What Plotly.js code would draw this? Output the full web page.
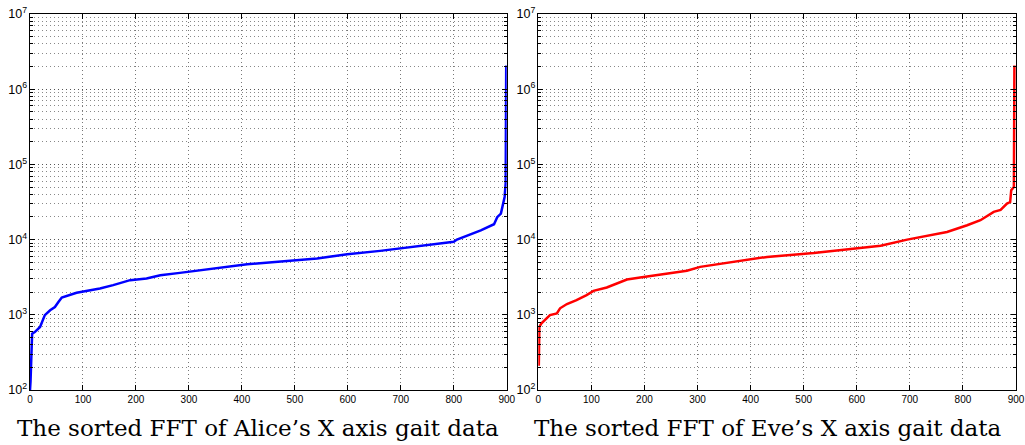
<!DOCTYPE html>
<html>
<head>
<meta charset="utf-8">
<script src="https://cdn.plot.ly/plotly-3.0.1.min.js"></script>
<style>html,body{margin:0;padding:0;background:#fff;}#chart{width:1025px;height:445px;}</style>
</head>
<body>
<div id="chart"></div>
<script>
// Sorted FFT magnitudes
const aliceX = [0, 1, 4, 9, 19, 28, 38, 47, 54, 60, 88, 107, 132, 157, 189, 220, 246, 283, 321, 410, 542, 599, 661, 700, 724, 800, 806, 851, 876, 882, 889, 892, 896, 898, 899];
const aliceY = [100, 130, 560, 590, 690, 990, 1150, 1270, 1490, 1700, 1960, 2080, 2240, 2480, 2890, 3040, 3360, 3610, 3930, 4710, 5610, 6400, 7080, 7620, 8000, 9330, 10000, 13300, 16000, 19900, 22200, 28600, 36900, 56000, 2070000];

const eveX = [1, 2, 6, 13, 22, 35, 41, 54, 72, 91, 104, 129, 148, 167, 192, 242, 280, 305, 393, 431, 519, 569, 645, 695, 770, 808, 833, 858, 871, 883, 889, 891, 896, 897];
const eveY = [210, 690, 770, 870, 990, 1040, 1220, 1390, 1570, 1830, 2080, 2310, 2610, 2950, 3140, 3550, 3850, 4340, 5320, 5890, 6650, 7230, 8300, 10000, 12640, 15500, 18100, 23400, 24800, 30100, 31600, 45300, 50100, 2070000];

const titles = ["The sorted FFT of Alice\u2019s X axis gait data", "The sorted FFT of Eve\u2019s X axis gait data"];
const xTickVals = [0, 100, 200, 300, 400, 500, 600, 700, 800, 900];

const tickFont = {family: "Liberation Sans, Arial, sans-serif", size: 10, color: "#000"};
const titleFont = {family: "DejaVu Serif, serif", size: 23, color: "#000"};

function xa(domain, anchor) {
  return {
    domain: domain, anchor: anchor, range: [0, 900], tickvals: xTickVals,
    showline: true, linecolor: "#000", linewidth: 1, mirror: "ticks",
    ticks: "inside", ticklen: 5, tickcolor: "#000",
    showgrid: true, gridcolor: "#777", griddash: "1px,3px", gridwidth: 1,
    zeroline: false, tickfont: tickFont
  };
}
function ya(anchor) {
  return {
    anchor: anchor, type: "log", range: [2, 7], dtick: 1,
    exponentformat: "power", showexponent: "all",
    showline: true, linecolor: "#000", linewidth: 1, mirror: "ticks",
    ticks: "inside", ticklen: 5, tickcolor: "#000",
    showgrid: true, gridcolor: "#555", griddash: "1px,3px", gridwidth: 1,
    minor: {dtick: "D1", ticks: "inside", ticklen: 3, tickcolor: "#000", showgrid: true, gridcolor: "#888", griddash: "1px,3px", gridwidth: 1},
    zeroline: false, tickfont: tickFont
  };
}

const data = [
  {x: aliceX, y: aliceY, xaxis: "x", yaxis: "y", mode: "lines", line: {color: "#0000ff", width: 2.5}, hoverinfo: "none"},
  {x: eveX, y: eveY, xaxis: "x2", yaxis: "y2", mode: "lines", line: {color: "#ff0000", width: 2.5}, hoverinfo: "none"}
];

const layout = {
  width: 1025, height: 445,
  margin: {l: 30, r: 9, t: 14, b: 55},
  paper_bgcolor: "#fff", plot_bgcolor: "#fff",
  showlegend: false,
  xaxis: xa([0, 0.4835], "y"),
  yaxis: ya("x"),
  xaxis2: xa([0.5155, 1], "y2"),
  yaxis2: ya("x2"),
  annotations: [
    {text: titles[0], xref: "paper", yref: "paper", x: -0.0152, y: 0, xanchor: "left", yanchor: "middle", yshift: -38, showarrow: false, font: titleFont},
    {text: titles[1], xref: "paper", yref: "paper", x: 0.5088, y: 0, xanchor: "left", yanchor: "middle", yshift: -38, showarrow: false, font: titleFont}
  ]
};

Plotly.newPlot("chart", data, layout, {staticPlot: true, displayModeBar: false});
</script>
</body>
</html>
